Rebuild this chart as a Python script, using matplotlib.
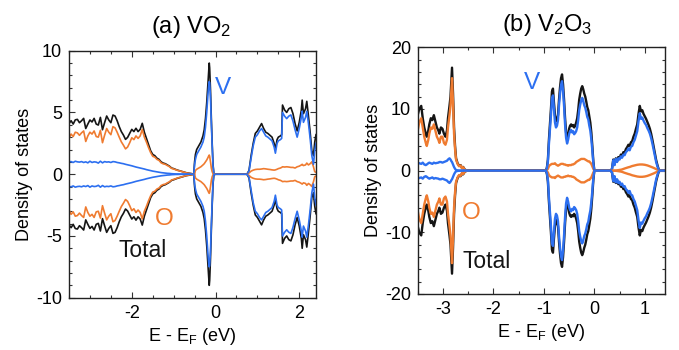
import numpy as np
import matplotlib
matplotlib.use("Agg")
import matplotlib.pyplot as plt

plt.rcParams['font.family'] = ['Liberation Sans', 'DejaVu Sans']
plt.rcParams['mathtext.fontset'] = 'custom'
plt.rcParams['mathtext.rm'] = 'Liberation Sans'
plt.rcParams['mathtext.it'] = 'Liberation Sans:italic'
plt.rcParams['axes.unicode_minus'] = False

BLACK = '#151515'
ORANGE = '#ef7b30'
BLUE = '#2c6ff0'

# ---------------- (a) VO2 data ----------------
e_a_val = np.round(np.linspace(-3.5, -0.55, 60), 3)
tot_a_val = [4.10, 4.33, 4.06, 4.40, 4.44, 4.17, 4.33, 4.52, 3.70, 4.06,
             4.39, 4.23, 4.52, 4.06, 3.98, 4.60, 3.60, 4.17, 4.71, 4.39,
             4.17, 4.79, 4.71, 4.33, 3.85, 3.45, 3.17, 2.82, 2.98, 3.31,
             3.63, 3.45, 3.72, 3.45, 3.63, 4.12, 3.40, 2.90, 2.40, 1.90,
             1.60, 1.50, 1.30, 1.20, 1.00, 0.90, 0.85, 0.75, 0.65, 0.50,
             0.45, 0.38, 0.32, 0.27, 0.22, 0.17, 0.12, 0.09, 0.06, 0.03]
o_a_val = [2.90, 3.25, 3.05, 3.40, 3.35, 3.15, 3.35, 3.50, 2.65, 3.10,
           3.40, 3.25, 3.50, 3.05, 3.00, 3.55, 2.55, 3.15, 3.70, 3.40,
           3.20, 3.85, 3.75, 3.40, 3.00, 2.62, 2.35, 2.05, 2.20, 2.55,
           2.95, 2.80, 3.10, 2.90, 3.10, 3.62, 3.00, 2.60, 2.15, 1.75,
           1.45, 1.38, 1.20, 1.12, 0.92, 0.84, 0.80, 0.70, 0.61, 0.47,
           0.42, 0.36, 0.30, 0.26, 0.21, 0.16, 0.11, 0.08, 0.05, 0.03]
v_a_val = [1.00, 1.02, 0.95, 1.05, 1.00, 0.98, 1.02, 0.95, 1.00, 0.92,
           1.05, 0.95, 1.00, 0.98, 0.90, 1.05, 0.92, 1.02, 0.98, 1.00,
           0.95, 1.02, 1.00, 0.95, 0.92, 0.88, 0.85, 0.80, 0.76, 0.72,
           0.68, 0.63, 0.58, 0.54, 0.50, 0.46, 0.42, 0.37, 0.33, 0.29,
           0.25, 0.22, 0.19, 0.16, 0.13, 0.11, 0.09, 0.07, 0.06, 0.04,
           0.03, 0.02, 0.02, 0.01, 0.01, 0.01, 0.00, 0.00, 0.00, 0.00]

e_a_pk = [-0.52, -0.50, -0.48, -0.45, -0.40, -0.35, -0.30, -0.27, -0.24, -0.21,
          -0.18, -0.16, -0.15, -0.14, -0.12, -0.10, -0.08, -0.06, -0.04, 0.00]
tot_a_pk = [0.0, 1.0, 1.6, 2.0, 2.3, 2.6, 3.1, 3.6, 4.5, 5.8,
            7.4, 8.5, 9.0, 8.6, 6.8, 4.5, 2.5, 0.8, 0.05, 0.0]
o_a_pk = [0.0, 0.0, 0.3, 0.4, 0.5, 0.6, 0.75, 0.85, 1.0, 1.15,
          1.35, 1.5, 1.55, 1.45, 1.0, 0.5, 0.2, 0.05, 0.0, 0.0]
v_a_pk = [0.0, 0.8, 1.2, 1.6, 1.9, 2.2, 2.6, 3.0, 3.8, 5.0,
          6.5, 7.3, 7.5, 7.4, 6.2, 4.1, 2.3, 0.7, 0.05, 0.0]

e_a_cb = [0.75, 0.80, 0.85, 0.90, 0.95, 1.00, 1.05, 1.10, 1.15, 1.20,
          1.25, 1.30, 1.35, 1.40, 1.43, 1.47, 1.50, 1.55, 1.58, 1.60,
          1.65, 1.70, 1.75, 1.80, 1.85, 1.90, 1.95, 2.00, 2.05, 2.07,
          2.10, 2.15, 2.18, 2.22, 2.26, 2.30, 2.34, 2.37, 2.40]
tot_a_cb = [0.0, 0.3, 1.5, 2.5, 3.3, 3.5, 3.8, 4.1, 3.7, 3.4,
            3.3, 3.15, 3.0, 2.5, 2.0, 2.8, 3.0, 3.1, 3.2, 5.6,
            5.2, 5.0, 5.3, 5.4, 4.9, 4.1, 3.5, 4.2, 5.2, 6.0,
            4.9, 5.3, 5.9, 4.7, 3.4, 1.9, 1.5, 2.6, 3.2]
o_a_cb = [0.0, 0.1, 0.25, 0.33, 0.38, 0.40, 0.40, 0.42, 0.45, 0.43,
          0.40, 0.38, 0.35, 0.33, 0.35, 0.40, 0.45, 0.50, 0.55, 0.60,
          0.58, 0.60, 0.58, 0.55, 0.55, 0.50, 0.60, 0.65, 0.75, 0.80,
          0.70, 0.75, 0.90, 0.75, 0.85, 1.00, 0.60, 0.20, 0.15]
v_a_cb = [0.0, 0.25, 1.3, 2.3, 3.0, 3.2, 3.5, 3.7, 3.4, 3.1,
          3.0, 2.85, 2.7, 2.2, 1.7, 2.5, 2.7, 2.8, 2.9, 5.0,
          4.7, 4.5, 4.7, 4.8, 4.3, 3.6, 3.0, 3.7, 4.6, 5.1,
          4.2, 4.6, 5.1, 4.1, 2.9, 1.5, 0.8, 1.9, 2.5]

# ---------------- (b) V2O3 data ----------------
e_b_o = [-3.50, -3.47, -3.43, -3.40, -3.37, -3.34, -3.32, -3.29, -3.27, -3.24,
         -3.21, -3.18, -3.15, -3.12, -3.09, -3.07, -3.04, -3.01, -2.98, -2.95,
         -2.92, -2.90, -2.87, -2.85, -2.83, -2.82, -2.80, -2.78, -2.76, -2.74,
         -2.71, -2.68, -2.65, -2.62, -2.60, -2.57, -2.55, -2.52]
tot_b_o = [9.0, 10.0, 10.5, 8.5, 7.0, 6.0, 5.5, 6.5, 7.5, 8.5,
           8.2, 9.0, 8.0, 7.0, 6.5, 6.0, 7.0, 6.8, 6.0, 5.5,
           6.5, 8.5, 10.5, 12.0, 15.0, 16.7, 12.5, 7.0, 4.0, 2.0,
           1.2, 0.8, 0.9, 0.4, 0.6, 0.2, 0.1, 0.0]
o_b_o = [6.5, 7.8, 8.5, 7.0, 5.5, 4.5, 4.0, 5.0, 6.0, 7.0,
         6.8, 7.5, 6.5, 5.5, 5.0, 4.5, 5.5, 5.5, 4.5, 4.2,
         5.0, 7.0, 9.0, 10.5, 13.5, 15.0, 11.0, 6.0, 3.5, 1.8,
         1.1, 0.7, 0.85, 0.35, 0.55, 0.2, 0.1, 0.0]
v_b_o = [1.3, 1.2, 1.1, 1.3, 1.0, 0.9, 1.0, 1.2, 1.3, 1.2,
         1.1, 1.3, 1.2, 1.25, 1.3, 1.4, 1.4, 1.3, 1.4, 1.5,
         1.6, 1.8, 2.0, 1.8, 1.5, 1.4, 1.0, 0.6, 0.3, 0.1,
         0.05, 0.0, 0.0, 0.0, 0.0, 0.0, 0.0, 0.0]

e_b_v = np.round(np.linspace(-0.96, 0.0, 49), 3)
tot_b_v = [0.0, 0.5, 1.8, 5.0, 7.5, 10.0, 12.8, 13.3, 11.0, 9.0,
           8.0, 8.2, 9.0, 11.5, 13.5, 15.0, 15.6, 14.0, 11.5, 8.5,
           6.2, 5.3, 5.8, 6.8, 7.3, 7.5, 7.2, 7.4, 7.0, 7.3,
           7.8, 8.5, 9.8, 11.5, 12.5, 13.3, 13.7, 13.2, 12.5, 12.0,
           11.2, 10.3, 9.8, 8.8, 7.8, 6.2, 4.0, 1.5, 0.0]
o_b_v = [0.0, 0.1, 0.3, 0.7, 0.9, 1.0, 1.1, 1.1, 1.1, 1.2,
         1.0, 0.9, 0.8, 0.9, 1.0, 1.1, 1.1, 1.1, 1.0, 1.0,
         0.9, 0.9, 0.8, 0.9, 0.9, 0.9, 1.0, 1.0, 1.1, 1.2,
         1.4, 1.5, 1.6, 1.7, 1.8, 1.9, 1.9, 1.9, 1.9, 1.8,
         1.7, 1.6, 1.5, 1.5, 1.3, 1.1, 0.7, 0.3, 0.0]
v_b_v = [0.0, 0.4, 1.5, 4.3, 6.6, 9.0, 11.7, 12.2, 9.9, 7.8,
         7.0, 7.3, 8.2, 10.6, 12.5, 13.9, 14.5, 12.9, 10.5, 7.5,
         5.3, 4.4, 5.0, 5.9, 6.4, 6.6, 6.2, 6.4, 5.9, 6.1,
         6.4, 7.0, 8.2, 9.8, 10.7, 11.4, 11.8, 11.3, 10.6, 10.2,
         9.5, 8.7, 8.3, 7.3, 6.5, 5.1, 3.3, 1.2, 0.0]

e_b_c = np.round(np.linspace(0.325, 1.30, 40), 3)
tot_b_c = [0.0, 0.3, 1.8, 1.0, 2.0, 1.5, 2.2, 2.0, 2.6, 2.4,
           3.0, 2.9, 3.5, 3.8, 4.2, 4.0, 4.6, 4.8, 5.5, 6.0,
           6.8, 7.5, 9.2, 10.5, 9.6, 9.8, 9.2, 8.8, 8.4, 7.9,
           7.4, 6.8, 6.0, 5.0, 3.9, 2.8, 1.7, 0.9, 0.2, 0.0]
o_b_c = [0.0, 0.0, 0.0, 0.0, 0.02, 0.05, 0.08, 0.1, 0.15, 0.2,
         0.28, 0.35, 0.42, 0.5, 0.55, 0.6, 0.68, 0.75, 0.8, 0.85,
         0.9, 0.95, 0.98, 1.0, 1.0, 1.0, 0.98, 0.95, 0.9, 0.85,
         0.78, 0.7, 0.62, 0.55, 0.45, 0.35, 0.25, 0.15, 0.05, 0.0]
v_b_c = [0.0, 0.3, 1.7, 0.9, 1.9, 1.4, 2.0, 1.8, 2.3, 2.1,
         2.6, 2.5, 3.0, 3.2, 3.6, 3.3, 3.9, 4.0, 4.6, 5.0,
         5.7, 6.4, 8.0, 9.3, 8.4, 8.6, 8.1, 7.7, 7.4, 6.9,
         6.5, 6.0, 5.3, 4.4, 3.4, 2.4, 1.4, 0.7, 0.15, 0.0]

e_a = np.concatenate([e_a_val, e_a_pk, e_a_cb])
tot_a = np.concatenate([tot_a_val, tot_a_pk, tot_a_cb])
o_a = np.concatenate([o_a_val, o_a_pk, o_a_cb])
v_a = np.concatenate([v_a_val, v_a_pk, v_a_cb])

e_b = np.concatenate([e_b_o, e_b_v, e_b_c, [1.4]])
tot_b = np.concatenate([tot_b_o, tot_b_v, tot_b_c, [0.0]])
o_b = np.concatenate([o_b_o, o_b_v, o_b_c, [0.0]])
v_b = np.concatenate([v_b_o, v_b_v, v_b_c, [0.0]])

fig = plt.figure(figsize=(6.79, 3.5), dpi=100)
axa = fig.add_axes([69/679, 1-297.7/350, 247/679, 247/350])
axb = fig.add_axes([417.7/679, 1-294/350, 247.3/679, 246.7/350])


def draw(ax, e, tot, o, v, lw):
    for s in (1, -1):
        ax.plot(e, s*np.asarray(tot), color=BLACK, lw=lw, solid_joinstyle='round')
        ax.plot(e, s*np.asarray(o), color=ORANGE, lw=lw, solid_joinstyle='round')
        ax.plot(e, s*np.asarray(v), color=BLUE, lw=lw, solid_joinstyle='round')


draw(axa, e_a, tot_a, o_a, v_a, 1.2)
draw(axb, e_b, tot_b, o_b, v_b, 1.7)

axa.set_xlim(-3.5, 2.4)
axa.set_ylim(-10, 10)
axa.set_xticks([-2, 0, 2])
axa.set_yticks([-10, -5, 0, 5, 10])
axa.set_xticks(np.arange(-3.5, 2.41, 0.5), minor=True)
axa.set_yticks(np.arange(-10, 10.1, 1), minor=True)

axb.set_xlim(-3.5, 1.4)
axb.set_ylim(-20, 20)
axb.set_xticks([-3, -2, -1, 0, 1])
axb.set_yticks([-20, -10, 0, 10, 20])
axb.set_xticks(np.arange(-3.5, 1.41, 0.5), minor=True)
axb.set_yticks(np.arange(-20, 20.1, 2), minor=True)

for ax in (axa, axb):
    ax.tick_params(which='both', direction='in', top=True, right=True,
                   labelsize=13, width=0.8, color='#333333')
    ax.tick_params(which='major', length=4.5, pad=5)
    ax.tick_params(which='minor', length=2.5)
    for sp in ax.spines.values():
        sp.set_linewidth(1.0)
        sp.set_color('#222222')
    ax.set_ylabel('Density of states', fontsize=13, labelpad=2)
    ax.set_xlabel(r'E - E$_\mathregular{F}$ (eV)', fontsize=13, labelpad=3)

axa.text(0.493, 1 + 17.4/247, r'(a) VO$_\mathregular{2}$', fontsize=17,
         ha='center', va='baseline', transform=axa.transAxes)
axb.text(0.525, 1 + 16.6/246.7, r'(b) V$_\mathregular{2}$O$_\mathregular{3}$', fontsize=17,
         ha='center', va='baseline', transform=axb.transAxes)

axa.text(0.18, 7.0, 'V', color=BLUE, fontsize=17.5, ha='center', va='center')
axa.text(-1.23, -3.64, 'O', color=ORANGE, fontsize=17.5, ha='center', va='center')
axa.text(-1.75, -6.14, 'Total', color=BLACK, fontsize=16.5, ha='center', va='center')

axb.text(-1.235, 14.25, 'V', color=BLUE, fontsize=17.5, ha='center', va='center')
axb.text(-2.44, -6.84, 'O', color=ORANGE, fontsize=17.5, ha='center', va='center')
axb.text(-2.14, -14.8, 'Total', color=BLACK, fontsize=16.5, ha='center', va='center')

fig.savefig('out.png', dpi=100)
